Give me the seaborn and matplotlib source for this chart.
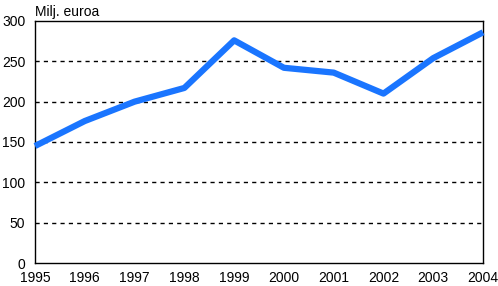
import matplotlib
matplotlib.use("Agg")
import matplotlib.pyplot as plt
import seaborn as sns
import pandas as pd

years = [1995, 1996, 1997, 1998, 1999, 2000, 2001, 2002, 2003, 2004]
values = [145, 176, 200, 217, 276, 242, 236, 210, 254, 286]
yticks = [0, 50, 100, 150, 200, 250, 300]
unit_label = "Milj. euroa"

sns.set_theme(style="white")
plt.rcParams['font.family'] = ['Liberation Sans', 'DejaVu Sans']

df = pd.DataFrame({"year": years, "value": values})

fig = plt.figure(figsize=(4.98, 2.86), dpi=100)
ax = fig.add_axes([0.0703, 0.0804, 0.8997, 0.8462])

for t in yticks[1:-1]:
    ax.axhline(t, color="black", linestyle=(0, (3, 3)), linewidth=1, zorder=1)

sns.lineplot(data=df, x="year", y="value", ax=ax, color="#1a75ff",
             linewidth=4.5, solid_capstyle="butt", zorder=3, clip_on=False)

ax.set_xlim(years[0], years[-1])
ax.set_ylim(0, 300)
ax.set_xticks(years)
ax.set_xticklabels([str(y) for y in years], fontsize=10)
ax.set_yticks(yticks)
ax.set_yticklabels([str(t) for t in yticks], fontsize=10)
ax.tick_params(axis="x", length=0, pad=6, colors="black")
ax.tick_params(axis="y", length=0, pad=7, colors="black")
ax.set_xlabel("")
ax.set_ylabel("")
for s in ax.spines.values():
    s.set_color("black")
    s.set_linewidth(1)
    s.set_visible(True)
ax.grid(False)
fig.text(0.0703, 0.958, unit_label, fontsize=10, ha="left", va="center", color="black")

fig.savefig("out.png", dpi=100)
